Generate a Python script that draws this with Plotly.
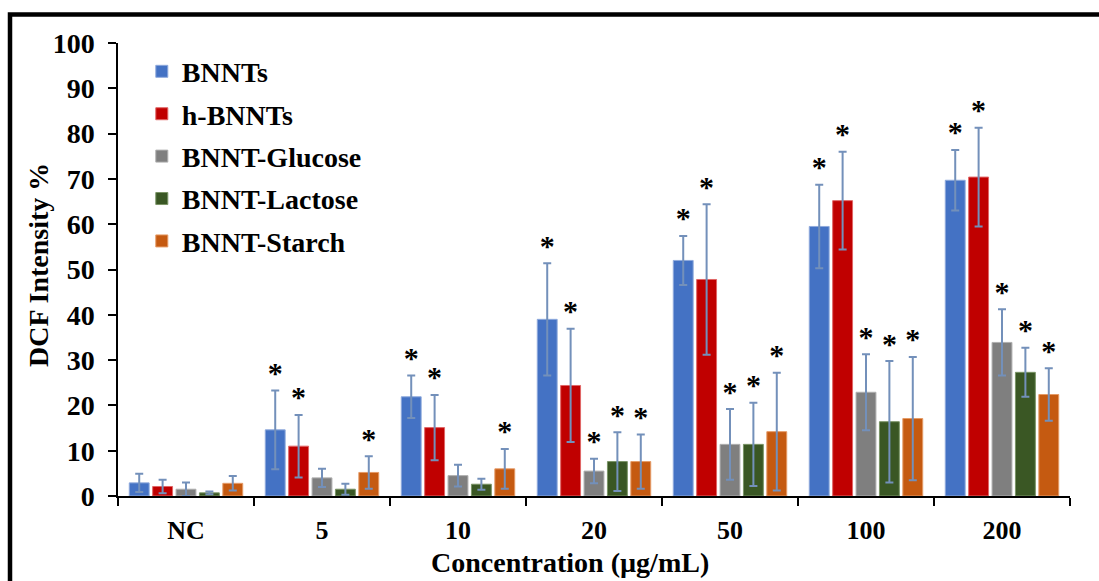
import plotly.graph_objects as go

categories = ["NC", "5", "10", "20", "50", "100", "200"]
series_names = ["BNNTs", "h-BNNTs", "BNNT-Glucose", "BNNT-Lactose", "BNNT-Starch"]

bnnts_mean = [2.9, 14.6, 21.9, 39.0, 52.0, 59.5, 69.7]
bnnts_err = [2.0, 8.7, 4.7, 12.4, 5.4, 9.2, 6.7]
hbnnts_mean = [2.1, 11.0, 15.1, 24.4, 47.8, 65.2, 70.4]
hbnnts_err = [1.5, 6.9, 7.2, 12.5, 16.6, 10.8, 10.9]
glucose_mean = [1.5, 4.0, 4.5, 5.5, 11.4, 22.9, 33.9]
glucose_err = [1.5, 2.0, 2.4, 2.7, 7.8, 8.4, 7.3]
lactose_mean = [0.7, 1.5, 2.6, 7.6, 11.4, 16.4, 27.3]
lactose_err = [0.3, 1.2, 1.2, 6.5, 9.2, 13.4, 5.4]
starch_mean = [2.8, 5.2, 6.0, 7.6, 14.2, 17.1, 22.4]
starch_err = [1.6, 3.6, 4.4, 6.0, 13.0, 13.6, 5.8]

# significance markers (1 = "*")
bnnts_sig = [0, 1, 1, 1, 1, 1, 1]
hbnnts_sig = [0, 1, 1, 1, 1, 1, 1]
glucose_sig = [0, 0, 0, 1, 1, 1, 1]
lactose_sig = [0, 0, 0, 1, 1, 1, 1]
starch_sig = [0, 1, 1, 1, 1, 1, 1]

x_title = "Concentration (µg/mL)"
y_title = "DCF Intensity %"

colors = ["#4472C4", "#C00000", "#7F7F7F", "#3A5724", "#C55A11"]
edge_colors = ["#8FAADC", "#E06666", "#B0B0B0", "#7A9466", "#E59A66"]
err_color = "#7390BA"
font_family = "Liberation Serif, Times New Roman, serif"

means = [bnnts_mean, hbnnts_mean, glucose_mean, lactose_mean, starch_mean]
errs = [bnnts_err, hbnnts_err, glucose_err, lactose_err, starch_err]
sigs = [bnnts_sig, hbnnts_sig, glucose_sig, lactose_sig, starch_sig]

fig = go.Figure()
for i, name in enumerate(series_names):
    fig.add_trace(go.Bar(
        x=categories, y=means[i], name=name,
        legendgroup=name,
        marker=dict(color=colors[i], line=dict(color=edge_colors[i], width=1)),
        error_y=dict(type="data", array=errs[i], visible=True,
                     color=err_color, thickness=2, width=4),
    ))

for i, name in enumerate(series_names):
    tops = [m + e for m, e in zip(means[i], errs[i])]
    texts = ["*" if s else "" for s in sigs[i]]
    fig.add_trace(go.Scatter(
        x=categories, y=tops, mode="text", text=texts,
        textposition="top center",
        textfont=dict(family=font_family, size=30, color="black", weight="bold"),
        showlegend=False, hoverinfo="skip",
    ))

fig.update_layout(
    width=1099, height=581,
    margin=dict(l=118, r=29, t=43, b=85),
    paper_bgcolor="white", plot_bgcolor="white",
    barmode="group", bargap=0.14, bargroupgap=0.15,
    scattermode="group",
    font=dict(family=font_family, color="black"),
    legend=dict(
        x=0.025, y=0.992, xanchor="left", yanchor="top",
        font=dict(family=font_family, size=28, color="black", weight="bold"),
        tracegroupgap=3, bgcolor="rgba(0,0,0,0)",
    ),
    showlegend=True,
)

fig.update_xaxes(
    showline=True, linecolor="black", linewidth=1.5,
    ticks="outside", ticklen=8, tickcolor="black", tickwidth=1.5,
    tickson="boundaries",
    tickfont=dict(family=font_family, size=26, color="black", weight="bold"),
    ticklabelstandoff=10,
    showgrid=False,
)
fig.update_yaxes(
    range=[0, 100], dtick=10,
    showline=True, linecolor="black", linewidth=1.5,
    ticks="outside", ticklen=8, tickcolor="black", tickwidth=1.5,
    tickfont=dict(family=font_family, size=28, color="black", weight="bold"),
    ticklabelstandoff=8,
    showgrid=False, zeroline=False,
)

fig.add_annotation(
    text=x_title, xref="paper", yref="paper",
    x=(570 - 118) / 952, y=(496 - 562) / 453,
    xanchor="center", yanchor="middle", showarrow=False,
    font=dict(family=font_family, size=28, color="black", weight="bold"),
)
fig.add_annotation(
    text=y_title, xref="paper", yref="paper",
    x=(38 - 118) / 952, y=(496 - 265) / 453,
    xanchor="center", yanchor="middle", showarrow=False, textangle=-90,
    font=dict(family=font_family, size=28, color="black", weight="bold"),
)

# outer frame
fig.add_shape(type="rect", xref="paper", yref="paper",
              x0=(10 - 118) / 952, x1=1.2, y0=-0.5, y1=(496 - 14.5) / 453,
              line=dict(color="black", width=4.5), fillcolor="rgba(0,0,0,0)",
              layer="above")

fig.write_html("out.html")
